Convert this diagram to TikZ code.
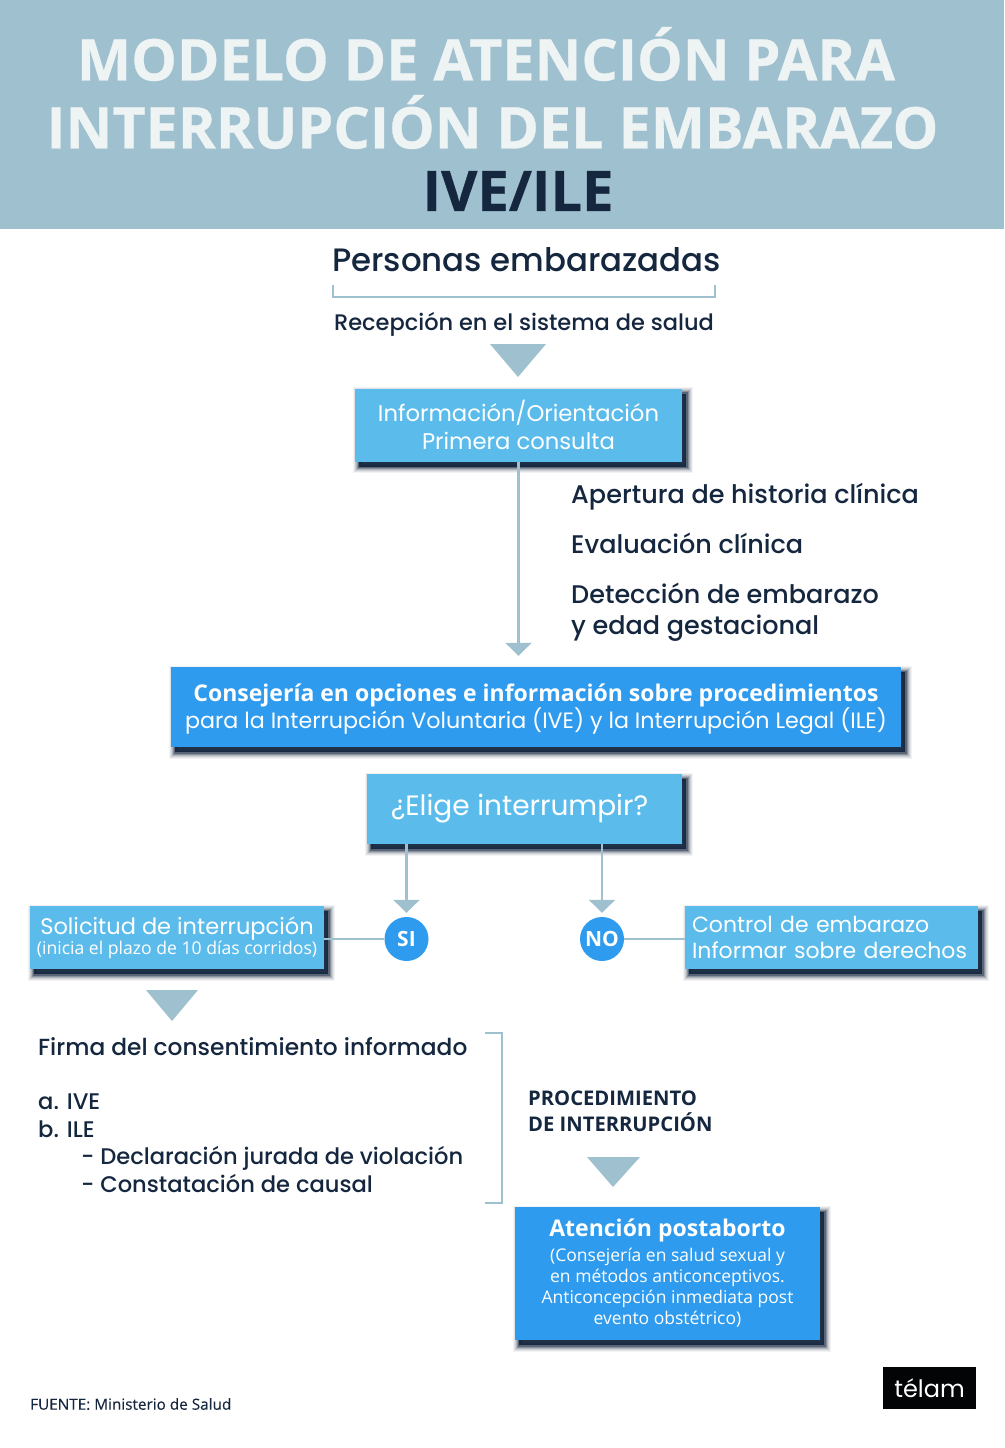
\documentclass[tikz,border=0pt]{standalone}
\usepackage{fontspec}
\setmainfont{Poppins}
\newfontfamily\openf{Open Sans}
\newfontfamily\openx[BoldFeatures={FakeBold=0.6}]{Open Sans}
\newfontfamily\opens[FakeBold=0.3]{Open Sans}
\newfontfamily\medf{Poppins Medium}
\usetikzlibrary{arrows.meta}
\definecolor{headbg}{HTML}{9FC0CF}
\definecolor{headtx}{HTML}{EEF3F4}
\definecolor{navy}{HTML}{15273F}
\definecolor{lightb}{HTML}{5BBCEC}
\definecolor{darkb}{HTML}{2E9BEE}
\definecolor{linec}{HTML}{9FC0CF}
\newcommand{\fs}[2]{\fontsize{#1}{#2}\selectfont}
\tikzset{
  softshadow/.style={
    preaction={draw=navy,fill=navy,line width=13pt,opacity=.05,transform canvas={shift={(4pt,-5pt)}}},
    preaction={draw=navy,fill=navy,line width=11pt,opacity=.08,transform canvas={shift={(4pt,-5pt)}}},
    preaction={draw=navy,fill=navy,line width=9pt,opacity=.10,transform canvas={shift={(4pt,-5pt)}}},
    preaction={draw=navy,fill=navy,line width=7pt,opacity=.15,transform canvas={shift={(4pt,-5pt)}}},
    preaction={draw=navy,fill=navy,line width=5pt,opacity=.25,transform canvas={shift={(4pt,-5pt)}}},
    preaction={draw=navy,fill=navy,line width=3pt,opacity=.40,transform canvas={shift={(4pt,-5pt)}}},
    preaction={fill=navy,opacity=.8,transform canvas={shift={(4pt,-5pt)}}}},
  box/.style={softshadow,rectangle,inner sep=0pt,text=white,align=center},
  lbox/.style={box,fill=lightb},
  dbox/.style={box,fill=darkb},
  plain/.style={inner sep=0pt,text=navy,anchor=west,align=left},
  boxtext/.style={inner sep=0pt,text=white,align=center},
  conn/.style={draw=linec,line width=2.5pt},
  arr/.style={conn,-{Triangle[width=26pt,length=13pt,color=linec]}},
  bigtri/.style={fill=linec},
  disc/.style={circle,fill=darkb,minimum size=44pt,inner sep=0pt,text=white,font=\openf\bfseries\fs{21}{24}},
}
\begin{document}
\begin{tikzpicture}[x=1pt,y=-1pt]
\useasboundingbox (0,0) rectangle (1004,1448);
\fill[white] (0,0) rectangle (1004,1448);
\fill[headbg] (0,0) rectangle (1004,229);
\node[inner sep=0pt,text=headtx,font=\openx\bfseries\fs{57.5}{58}] (t1) at (486,54) {MODELO DE ATENCIÓN PARA};
\node[inner sep=0pt,text=headtx,font=\openx\bfseries\fs{57.5}{58}] (t2) at (492.5,122) {INTERRUPCIÓN DEL EMBARAZO};
\node[inner sep=0pt,text=navy,font=\openx\bfseries\fs{56}{56}] (t3) at (518,191) {IVE/ILE};

\node[inner sep=0pt,text=navy,font=\medf\fs{32.4}{36}] (pers) at (526.5,260) {Personas embarazadas};
\draw[conn] (333,285) |- (715,297) -- (715,285);
\node[inner sep=0pt,text=navy,font=\medf\fs{22.5}{26}] (rec) at (524,324) {Recepción en el sistema de salud};
\fill[bigtri] (490,344) -- (546,344) -- (518,377) -- cycle;

\node[lbox,minimum width=327pt,minimum height=73pt,font=\fs{22.7}{27.5}] (info) at (518.5,425) {Información/Orientación\\Primera consulta};

\node[plain,font=\medf\fs{25.5}{30}] (h1) at (571,496.5) {Apertura de historia clínica};
\node[plain,font=\medf\fs{25.5}{30}] (h2) at (571,543) {Evaluación clínica};
\node[plain,font=\medf\fs{25.5}{30.5}] (h3) at (571,612) {Detección de embarazo\\y edad gestacional};

\node[dbox,minimum width=730pt,minimum height=80pt] (cons) at (536,707) {};
\node[boxtext] (constx) at ([yshift=-2pt]cons.center) {\openf\bfseries\fs{23}{27}Consejería en opciones e información sobre procedimientos\\\normalfont\fs{22.2}{27}para la Interrupción Voluntaria (IVE) y la Interrupción Legal (ILE)};
\draw[arr,shorten >=11pt] (info.south) -- (info.south |- cons.north);

\node[lbox,minimum width=315pt,minimum height=70pt,font=\fs{28}{30}] (elige) at (524.5,809) {\hspace*{-10pt}¿Elige interrumpir?};

\node[disc] (si) at (406.5,939) {SI};
\node[disc] (no) at (602,939) {NO};
\draw[arr,shorten >=4pt] (si |- elige.south) -- (si.north);
\draw[arr,shorten >=4pt] (no |- elige.south) -- (no.north);

\node[lbox,minimum width=294pt,minimum height=63pt] (sol) at (177,937.5) {\fs{22.5}{26}Solicitud de interrupción\\\openf\fs{17.6}{22}(inicia el plazo de 10 días corridos)};
\node[lbox,minimum width=293pt,minimum height=63pt,text width=279pt,align=left,font=\fs{22}{26}] (ctrl) at (831.5,937.5) {Control de embarazo\\Informar sobre derechos};
\draw[conn] (si.west) -- (si.west -| sol.east);
\draw[conn] (no.east) -- (no.east -| ctrl.west);

\fill[bigtri] (146,990) -- (198,990) -- (172,1021) -- cycle;
\node[plain,font=\medf\fs{23.3}{28}] (firma) at (38,1047) {Firma del consentimiento informado};
\node[plain,font=\medf\fs{22.6}{27.5}] (lst) at (38,1143) {a. IVE\\b. ILE\\\hspace{43pt}- Declaración jurada de violación\\\hspace{43pt}- Constatación de causal};
\draw[conn] (485,1033) -| (502,1203) -- (485,1203);

\node[plain,font=\openf\bfseries\fs{20.2}{26}] (proc) at (528,1111) {PROCEDIMIENTO\\DE INTERRUPCIÓN};
\fill[bigtri] (587,1157) -- (640,1157) -- (613,1187) -- cycle;

\node[dbox,minimum width=305pt,minimum height=133pt] (post) at (667.5,1273.5) {};
\node[boxtext,font=\openf\fs{17.5}{21}] (posttx) at ([yshift=0pt]post.center) {\bfseries\fs{23}{26}Atención postaborto\\[4pt](Consejería en salud sexual y\\en métodos anticonceptivos.\\Anticoncepción inmediata post\\evento obstétrico)};

\node[inner sep=0pt,text=navy,anchor=west,font=\opens\fs{15.3}{18}] (src) at (30,1404) {FUENTE: Ministerio de Salud};
\node[rectangle,fill=black!90!navy,text=white,minimum width=93pt,minimum height=42pt,inner sep=0pt,font=\fs{24}{30}] (telam) at (929.5,1388) {télam};
\end{tikzpicture}
\end{document}
